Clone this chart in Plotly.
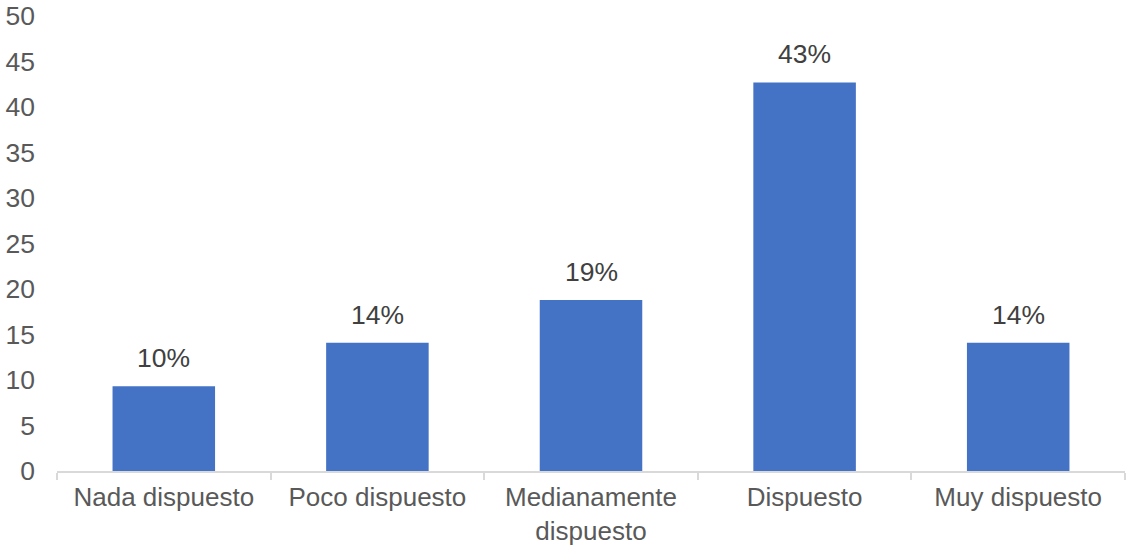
import plotly.graph_objects as go

categories = ["Nada dispuesto", "Poco dispuesto", "Medianamente<br>dispuesto", "Dispuesto", "Muy dispuesto"]
values = [9.3, 14.1, 18.8, 42.7, 14.1]
labels = ["10%", "14%", "19%", "43%", "14%"]
y_ticks = [0, 5, 10, 15, 20, 25, 30, 35, 40, 45, 50]

font_family = "Liberation Sans, Arial, sans-serif"
text_color = "#595959"
fsize = 26.5

fig = go.Figure()
fig.add_trace(go.Bar(
    x=categories,
    y=values,
    marker=dict(color="#4472C4", line=dict(width=0)),
    hoverinfo="skip",
))

for c, v, l in zip(categories, values, labels):
    fig.add_annotation(
        x=c, y=v, text=l, showarrow=False,
        yanchor="bottom", yshift=11,
        font=dict(family=font_family, size=fsize, color="#404040"),
    )

fig.update_layout(
    width=1127, height=546,
    margin=dict(l=57, r=2, t=16, b=75),
    plot_bgcolor="white", paper_bgcolor="white",
    bargap=0.52,
    showlegend=False,
    font=dict(family=font_family, size=fsize, color=text_color),
    xaxis=dict(
        showline=True, linecolor="#d9d9d9", linewidth=1.5,
        ticks="outside", tickson="boundaries", ticklen=7, tickcolor="#d9d9d9", tickwidth=1.5,
        showgrid=False, ticklabelstandoff=2, automargin=False,
        tickfont=dict(family=font_family, size=26, color=text_color),
    ),
    yaxis=dict(
        range=[0, 50], tickvals=y_ticks, showgrid=False, zeroline=False,
        showline=False, ticks="", ticklabelstandoff=21, automargin=False,
        tickfont=dict(family=font_family, size=fsize, color=text_color),
    ),
)

fig.write_html("out.html")
